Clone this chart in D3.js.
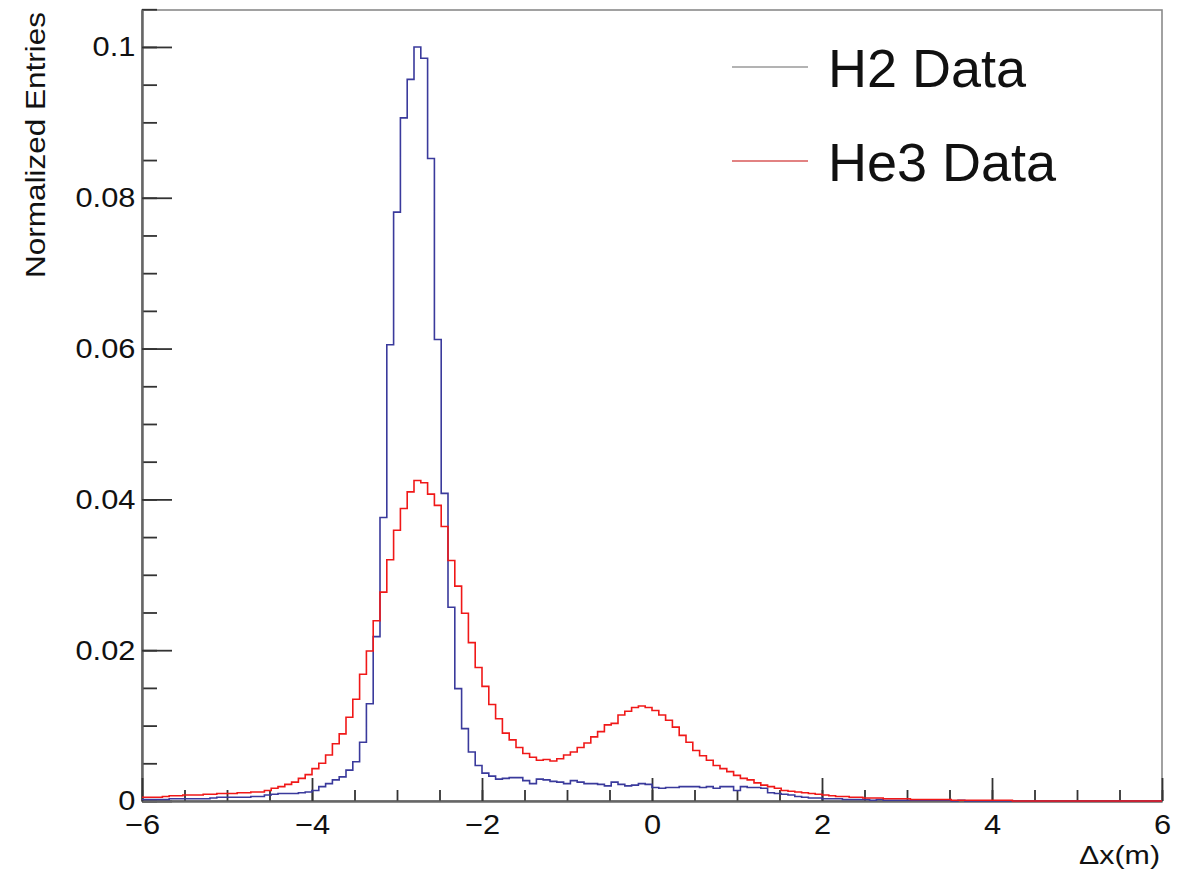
<!DOCTYPE html>
<html>
<head>
<meta charset="utf-8">
<script src="https://cdn.jsdelivr.net/npm/d3@7"></script>
<style>
  body { margin: 0; background: #fff; }
  text { font-family: "Liberation Sans", Arial, Helvetica, sans-serif; fill: #111; }
</style>
</head>
<body>
<div id="chartCont"></div>
<script>
// histogram binning: 150 bins from -6 to 6
let xMin = -6, xMax = 6, nBins = 150;

let h2Values = [
  0.0002,0.0002,0.0002,0.0002,
  0.0003,0.0003,0.0003,0.0003,0.0003,0.0003,
  0.0004,0.0005,0.0005,0.0005,0.0005,0.0005,0.0006,0.0006,
  0.0008,0.0009,0.0010,0.0010,0.0010,0.0011,0.0012,
  0.0014,0.0019,0.0023,0.0028,0.0032,0.0041,0.0052,0.0078,0.0129,0.0218,0.0376,
  0.0605,0.0781,0.0906,0.0957,0.1000,0.0985,0.0852,0.0612,0.0408,
  0.0257,0.0149,0.0096,0.0065,0.0047,0.0037,0.0033,
  0.0029,0.0030,0.0031,0.0031,0.0027,0.0023,0.0029,0.0028,0.0026,0.0025,
  0.0023,0.0027,0.0025,0.0023,0.0023,0.0022,0.0020,0.0025,0.0022,0.0020,
  0.0021,0.0023,0.0022,0.0018,0.0017,0.0018,0.0018,0.0019,0.0019,0.0019,
  0.0018,0.0019,0.0017,0.0019,0.0019,0.0014,0.0019,0.0018,0.0018,0.0017,
  0.0011,0.0010,0.0009,0.0008,0.0006,0.0005,0.0004,0.0004,0.0003,0.0003,
  0.0003,0.0002,0.0002,0.0002,0.0002,0.0001,0.0002,0.0001,0.0001,0.0001,
  0.0001,0.0001,0.0001,0.0001,0.0001,0.0001,0.0001,0.0000,0.0001,0.0000,
  0,0,0,0,0,0,0,0,0,0,
  0,0,0,0,0,0,0,0,0,0,
  0,0,0,0,0,0,0,0
];

let he3Values = [
  0.0005,0.0005,0.0005,0.0006,
  0.0007,0.0007,0.0008,0.0008,0.0008,0.0009,
  0.0009,0.0010,0.0010,0.0010,0.0011,0.0011,0.0012,0.0012,
  0.0014,0.0017,0.0019,0.0022,0.0025,0.0030,0.0035,
  0.0043,0.0050,0.0061,0.0076,0.0089,0.0111,0.0135,0.0168,0.0199,0.0239,0.0277,
  0.0320,0.0359,0.0388,0.0410,0.0425,0.0422,0.0407,0.0392,0.0364,
  0.0319,0.0285,0.0249,0.0210,0.0177,0.0152,0.0128,
  0.0109,0.0090,0.0081,0.0071,0.0063,0.0058,0.0054,0.0055,0.0053,0.0056,
  0.0061,0.0065,0.0071,0.0077,0.0085,0.0092,0.0101,0.0103,0.0114,0.0119,
  0.0124,0.0126,0.0124,0.0120,0.0114,0.0107,0.0098,0.0087,0.0078,0.0067,
  0.0060,0.0054,0.0047,0.0043,0.0039,0.0034,0.0030,0.0028,0.0024,0.0021,
  0.0019,0.0017,0.0014,0.0013,0.0012,0.0011,0.0010,0.0009,0.0008,0.0007,
  0.0006,0.0006,0.0005,0.0005,0.0004,0.0004,0.0004,0.0003,0.0003,0.0003,
  0.0003,0.0002,0.0002,0.0002,0.0002,0.0002,0.0002,0.0001,0.0001,0.0001,
  0.0001,0.0001,0.0001,0.0001,0.0001,0.0001,0,0,0,0,
  0,0,0,0,0,0,0,0,0,0,
  0,0,0,0,0,0,0,0
];

let xMajorTicks = [-6, -4, -2, 0, 2, 4, 6];
let xMinorTicks = d3.range(-6, 6.01, 0.5);
let yMajorTicks = [0, 0.02, 0.04, 0.06, 0.08, 0.1];
let yMinorTicks = d3.range(0, 0.1051, 0.005);

let legendLabels = ["H2 Data", "He3 Data"];
let legendColors = ["#9a9a9a", "#d85858"];

(function() {
  let width = 1188,
    height = 875;

  let plot = { left: 142, right: 1162, top: 10, bottom: 801 };

  let svg = d3.select("#chartCont")
    .append("svg")
    .attr("width", width)
    .attr("height", height);

  svg.append("rect")
    .attr("width", width)
    .attr("height", height)
    .attr("fill", "#fff");

  let x = d3.scaleLinear().domain([xMin, xMax]).range([plot.left, plot.right]);
  let y = d3.scaleLinear().domain([0, 0.1049]).range([plot.bottom, plot.top]);

  let binWidth = (xMax - xMin) / nBins;

  // step points: left edge of every bin, then close at the last right edge
  function stepPoints(values) {
    let pts = values.map(function(v, i) { return [xMin + i * binWidth, v]; });
    pts.push([xMax, values[values.length - 1]]);
    return pts;
  }

  let line = d3.line()
    .x(function(d) { return x(d[0]); })
    .y(function(d) { return y(d[1]); })
    .curve(d3.curveStepAfter);

  // frame
  svg.append("rect")
    .attr("x", plot.left)
    .attr("y", plot.top)
    .attr("width", plot.right - plot.left)
    .attr("height", plot.bottom - plot.top)
    .attr("fill", "none")
    .attr("stroke", "#8a8a8a")
    .attr("stroke-width", 1.6);

  // minor ticks (inside)
  let yMinor = d3.axisLeft(y).tickValues(yMinorTicks).tickSizeInner(-15).tickSizeOuter(0).tickFormat("");
  let xMinor = d3.axisBottom(x).tickValues(xMinorTicks).tickSizeInner(-11).tickSizeOuter(0).tickFormat("");

  svg.append("g").attr("class", "y minor")
    .attr("transform", "translate(" + plot.left + ",0)")
    .call(yMinor);
  svg.append("g").attr("class", "x minor")
    .attr("transform", "translate(0," + plot.bottom + ")")
    .call(xMinor);

  // major ticks with labels
  let yAxis = d3.axisLeft(y).tickValues(yMajorTicks).tickSizeInner(-30).tickSizeOuter(0).tickPadding(6)
    .tickFormat(function(d) { return d === 0 ? "0" : String(+d.toFixed(2)); });
  let xAxis = d3.axisBottom(x).tickValues(xMajorTicks).tickSizeInner(-23).tickSizeOuter(0).tickPadding(13)
    .tickFormat(function(d) { return d < 0 ? "\u2212" + Math.abs(d) : String(d); });

  let gy = svg.append("g").attr("class", "y axis")
    .attr("transform", "translate(" + plot.left + ",0)")
    .call(yAxis);
  let gx = svg.append("g").attr("class", "x axis")
    .attr("transform", "translate(0," + plot.bottom + ")")
    .call(xAxis);

  svg.selectAll(".axis path, .minor path")
    .attr("stroke", "#666")
    .attr("stroke-width", 2);
  svg.selectAll(".axis line, .minor line")
    .attr("stroke", "#333")
    .attr("stroke-width", 1.8);

  gy.selectAll("text")
    .style("font-family", "'Liberation Sans', Arial, sans-serif")
    .style("font-size", "28px")
    .attr("fill", "#111")
    .attr("transform", "scale(1.1,1)");
  gx.selectAll("text")
    .style("font-family", "'Liberation Sans', Arial, sans-serif")
    .style("font-size", "28px")
    .attr("fill", "#111")
    .attr("transform", "scale(1.1,1)");

  // histograms
  svg.append("path")
    .datum(stepPoints(h2Values))
    .attr("d", line)
    .attr("fill", "none")
    .attr("stroke", "#3a3a9c")
    .attr("stroke-width", 1.6);

  svg.append("path")
    .datum(stepPoints(he3Values))
    .attr("d", line)
    .attr("fill", "none")
    .attr("stroke", "#f01818")
    .attr("stroke-width", 1.6);

  // axis titles
  svg.append("text")
    .attr("transform", "translate(45,12) rotate(-90)")
    .attr("text-anchor", "end")
    .attr("textLength", 266)
    .attr("lengthAdjust", "spacingAndGlyphs")
    .style("font-size", "28px")
    .text("Normalized Entries");

  svg.append("text")
    .attr("x", 1160)
    .attr("y", 864)
    .attr("text-anchor", "end")
    .style("font-size", "26px")
    .attr("textLength", 81)
    .attr("lengthAdjust", "spacingAndGlyphs")
    .text("\u0394x(m)");

  // legend
  let legend = svg.selectAll(".legend")
    .data(legendLabels)
    .enter().append("g")
    .attr("class", "legend")
    .attr("transform", function(d, i) { return "translate(732," + (67 + i * 94) + ")"; });

  legend.append("line")
    .attr("x1", 0)
    .attr("x2", 76)
    .attr("stroke", function(d, i) { return legendColors[i]; })
    .attr("stroke-width", 1.6);

  legend.append("text")
    .attr("x", 96)
    .attr("y", 20)
    .style("font-size", "54px")
    .text(function(d) { return d; });
})();
</script>
</body>
</html>
